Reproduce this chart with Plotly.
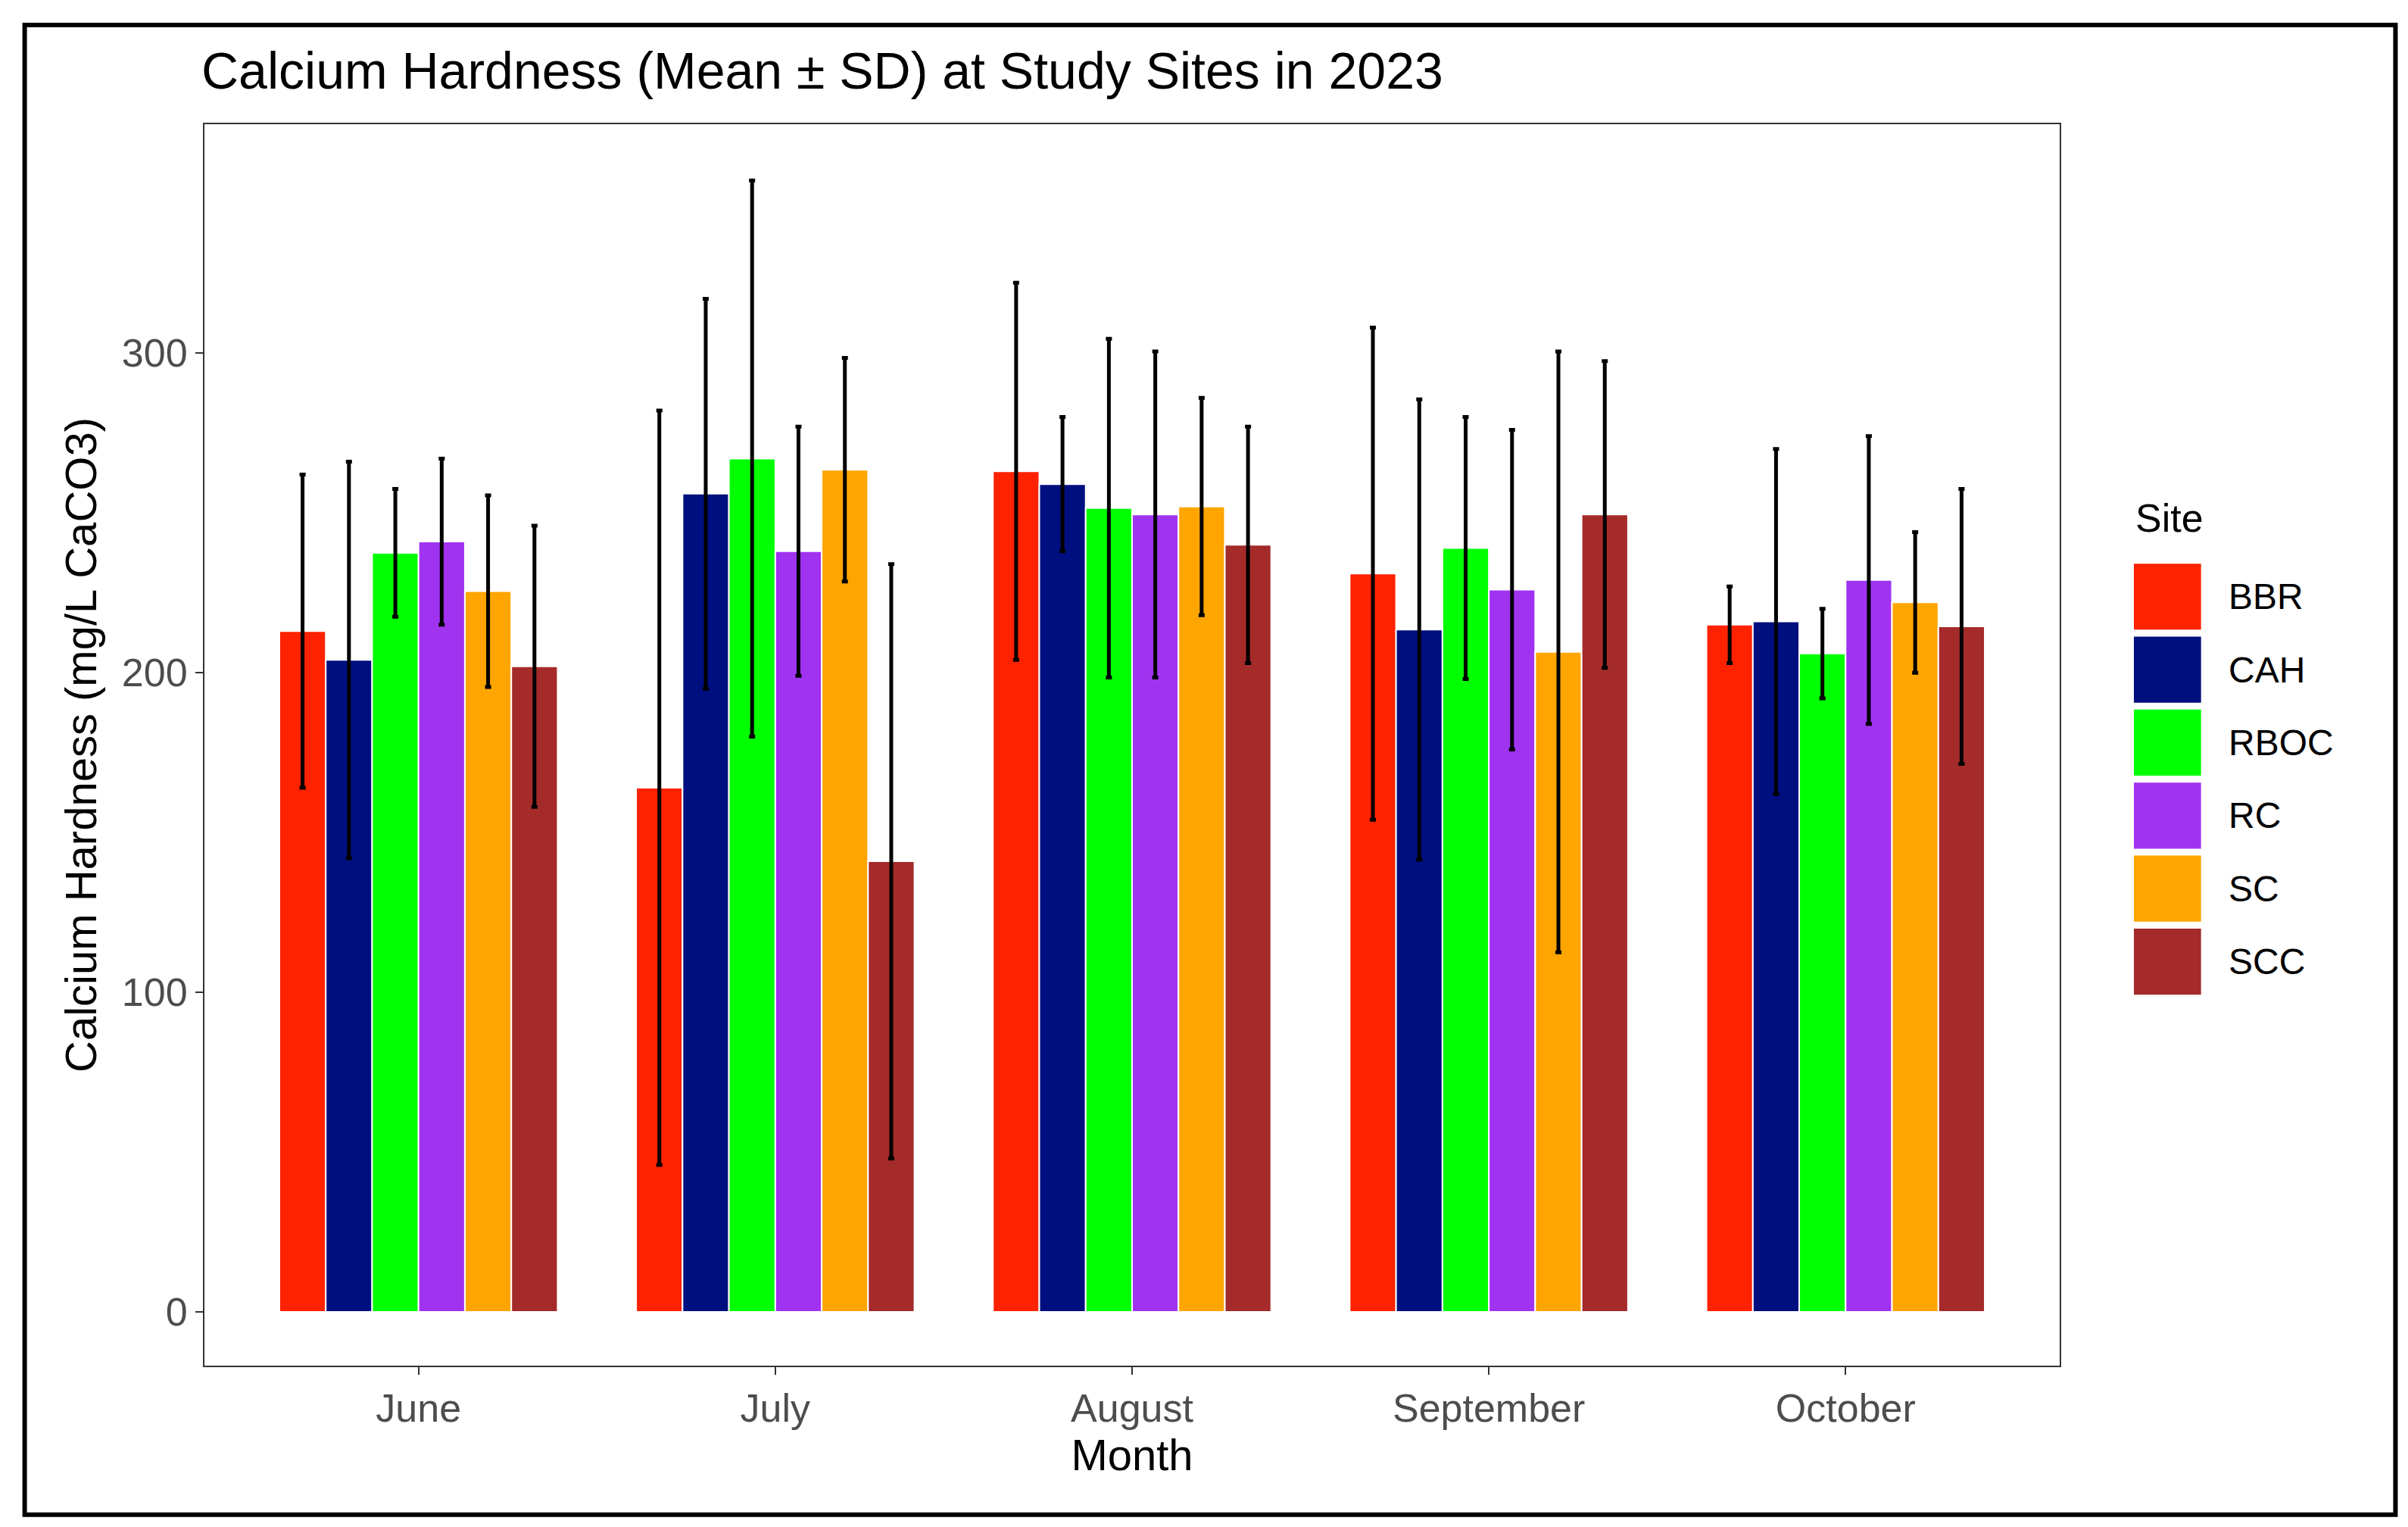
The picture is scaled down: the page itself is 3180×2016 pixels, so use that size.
import plotly.graph_objects as go

months = ["June", "July", "August", "September", "October"]
sites = ["BBR", "CAH", "RBOC", "RC", "SC", "SCC"]
colors = ["#FF2200", "#000F7F", "#00FF00", "#A033F0", "#FFA500", "#A52A2A"]
means = {
    "BBR": [213, 164, 263, 231, 215],
    "CAH": [204, 256, 259, 213.5, 216],
    "RBOC": [237.5, 267, 251.5, 239, 206],
    "RC": [241, 238, 249.5, 226, 229],
    "SC": [225.5, 263.5, 252, 206.5, 222],
    "SCC": [202, 141, 240, 249.5, 214.5],
}
sds = {
    "BBR": [49, 118, 59, 77, 12],
    "CAH": [62, 61, 21, 72, 54],
    "RBOC": [20, 87, 53, 41, 14],
    "RC": [26, 39, 51, 50, 45],
    "SC": [30, 35, 34, 94, 22],
    "SCC": [44, 93, 37, 48, 43],
}

fig = go.Figure()
for s, c in zip(sites, colors):
    fig.add_bar(x=months, y=means[s], name=s, marker=dict(color=c, line=dict(color="white", width=2)),
                error_y=dict(type="data", array=sds[s], color="black", thickness=5, width=4),
                showlegend=False)

shapes = [dict(type="rect", xref="paper", yref="paper", x0=-0.0969, x1=1.181, y0=-0.12, y1=1.08,
               line=dict(color="black", width=6), layer="below")]
annotations = [dict(text="Site", xref="paper", yref="paper", x=1.040, y=0.683, xanchor="left",
                    yanchor="middle", showarrow=False, font=dict(size=52, color="black"))]
for i, (s, c) in enumerate(zip(sites, colors)):
    ytop = (885 - 363 - i * 47.5) / 808
    ybot = (885 - 406 - i * 47.5) / 808
    shapes.append(dict(type="rect", xref="paper", yref="paper", x0=1.040, x1=1.0762, y0=ybot, y1=ytop,
                       fillcolor=c, line=dict(width=0)))
    annotations.append(dict(text=s, xref="paper", yref="paper", x=1.090, y=(ytop + ybot) / 2,
                            xanchor="left", yanchor="middle", showarrow=False,
                            font=dict(size=48, color="black")))

fig.update_layout(
    width=3180, height=2016, barmode="group", bargap=0.22, bargroupgap=0.0,
    plot_bgcolor="white", paper_bgcolor="white",
    margin=dict(l=262, r=468, t=156, b=221),
    font=dict(family="Liberation Sans, Arial", color="black"),
    title=dict(text="Calcium Hardness (Mean ± SD) at Study Sites in 2023", x=258 / 3180, xanchor="left",
               y=1 - 85 / 2016, yanchor="middle", font=dict(size=68, color="black")),
    xaxis=dict(title=dict(text="Month", font=dict(size=58), standoff=8), tickfont=dict(size=52, color="#4D4D4D"),
               range=[-0.6, 4.6],
               showline=True, linecolor="#333333", linewidth=2, mirror=True, ticks="outside",
               ticklen=10, tickcolor="#333333", tickwidth=2, showgrid=False),
    yaxis=dict(title=dict(text="Calcium Hardness (mg/L CaCO3)", font=dict(size=58), standoff=15),
               tickfont=dict(size=52, color="#4D4D4D"), range=[-16.8, 371.6], tickvals=[0, 100, 200, 300],
               showline=True, linecolor="#333333", linewidth=2, mirror=True, ticks="outside",
               ticklen=10, tickcolor="#333333", tickwidth=2, showgrid=False, zeroline=False),
    shapes=shapes, annotations=annotations,
)
fig.write_html("out.html")
